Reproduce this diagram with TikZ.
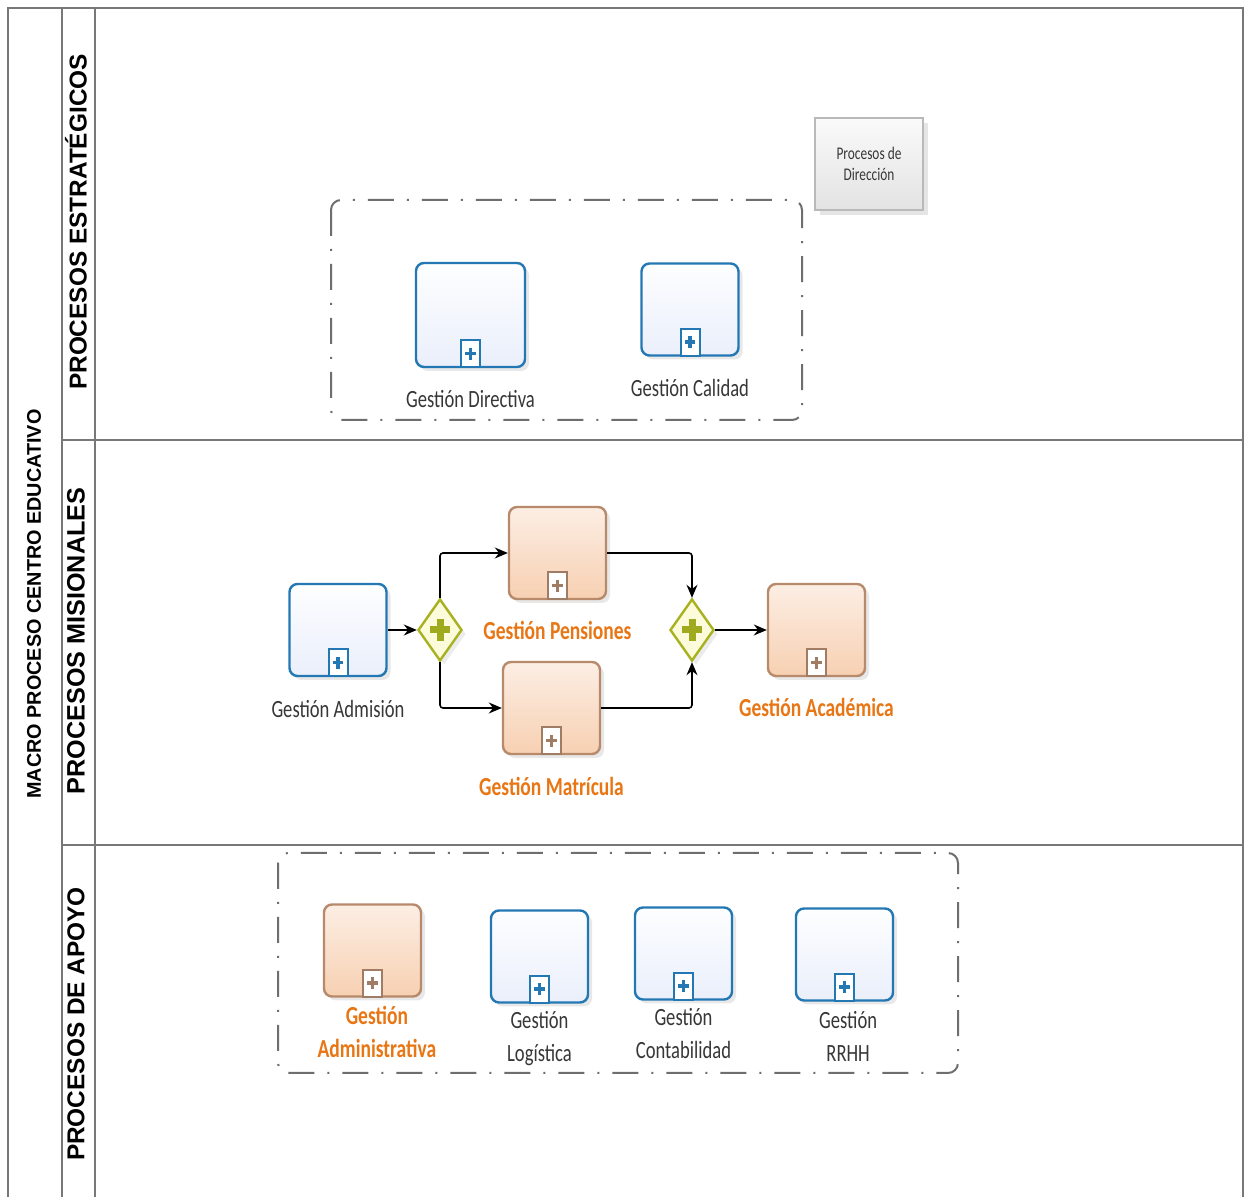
\documentclass[tikz,border=0pt]{standalone}
\usepackage{fontspec}
\newfontfamily\lblfont[FakeStretch=0.75]{Carlito}
\newfontfamily\arialfont{Liberation Sans}
\usetikzlibrary{shapes,arrows,arrows.meta,positioning,shadows,calc}

\definecolor{taskblue}{RGB}{35,120,180}
\definecolor{blueA}{RGB}{253,254,255}
\definecolor{blueB}{RGB}{234,239,251}
\definecolor{taskbrown}{RGB}{184,138,108}
\definecolor{orangeA}{RGB}{252,238,228}
\definecolor{orangeB}{RGB}{247,208,178}
\definecolor{markbrown}{RGB}{160,124,100}
\definecolor{lblorange}{RGB}{232,118,20}
\definecolor{lblgray}{RGB}{55,55,55}
\definecolor{gatefill}{RGB}{252,252,220}
\definecolor{gateline}{RGB}{168,178,32}
\definecolor{gateplus}{RGB}{160,170,30}
\definecolor{groupgray}{RGB}{110,110,110}
\definecolor{lanegray}{RGB}{120,120,120}

\begin{document}
\begin{tikzpicture}[
    x=0.5pt, y=-0.5pt,
    node distance=0.4cm,
    task/.style={draw=taskblue, line width=1.2pt, rounded corners=4pt, minimum width=48.5pt, minimum height=46pt,
        top color=blueA, bottom color=blueB, drop shadow={shadow xshift=2pt, shadow yshift=-2pt, opacity=0.18}},
    otask/.style={task, draw=taskbrown, top color=orangeA, bottom color=orangeB},
    subbox/.style={draw, fill=white, line width=1pt, minimum width=9.5pt, minimum height=13.5pt, inner sep=0pt, anchor=south},
    gate/.style={diamond, draw=gateline, fill=gatefill, line width=1.2pt, minimum width=22pt, minimum height=31pt, inner sep=0pt,
        drop shadow={shadow xshift=2pt, shadow yshift=-2pt, opacity=0.15}},
    note/.style={draw=gray!55, line width=0.6pt, top color=gray!4, bottom color=gray!22, minimum width=54pt, minimum height=46pt,
        align=center, font=\lblfont\fontsize{8.9}{10.5}\selectfont, text=lblgray,
        drop shadow={shadow xshift=2.5pt, shadow yshift=-2.5pt, opacity=0.2}},
    lbl/.style={font=\lblfont\fontsize{12.4}{16.5}\selectfont, text=lblgray, inner sep=0pt, align=center},
    olbl/.style={lbl, font=\lblfont\bfseries\fontsize{13}{16.5}\selectfont, text=lblorange},
    lane/.style={rotate=90, font=\arialfont\bfseries\fontsize{12.2}{14}\selectfont},
    group/.style={draw=groupgray, line width=1pt, rounded corners=5pt, dash pattern=on 13pt off 6.5pt on 1pt off 6.5pt},
    laneline/.style={draw=lanegray, line width=0.75pt},
    arrow/.style={->, thick, >={Stealth[length=6.5pt, width=5.5pt]}, rounded corners=1.5pt}
]
\fill[white] (0,0) rectangle (1250,1197);
\useasboundingbox (0,0) rectangle (1250,1197);

\draw[laneline] (8,1197) -- (8,8) -- (1243,8) -- (1243,1197);
\draw[laneline] (62,8) -- (62,1197);
\draw[laneline] (95,8) -- (95,1197);
\draw[laneline] (62,440) -- (1243,440);
\draw[laneline] (62,845) -- (1243,845);

\node[lane, font=\arialfont\bfseries\fontsize{9.9}{11}\selectfont] (pool) at (34,604) {MACRO PROCESO CENTRO EDUCATIVO};
\node[lane] (estr) at (76,222) {PROCESOS ESTRATÉGICOS};
\node[lane, font=\arialfont\bfseries\fontsize{12.6}{14}\selectfont] (misi) at (76,641) {PROCESOS MISIONALES};
\node[lane] (apoy) at (76,1024) {PROCESOS DE APOYO};

\draw[group] (331,200) rectangle (802,420);
\draw[group] (278,853) rectangle (958,1073);

\node[note] (dirnote) at (869,164) {Procesos de\\Dirección};

\node[task, minimum width=54.5pt, minimum height=52pt] (dir) at (470.5,315) {};
\node[task] (cal) at (690,309.5) {};
\node[lbl, below=11pt of dir] (dir-l) {Gestión Directiva};
\node[lbl, below=11pt of cal] (cal-l) {Gestión Calidad};

\node[task] (adm) at (338,630) {};
\node[gate] (g1) at (440,630) {};
\node[otask] (pen) at (557.5,553) {};
\node[otask] (mat) at (551.5,708) {};
\node[gate] (g2) at (692,630) {};
\node[otask] (aca) at (816.5,630) {};
\node[lbl, below=11.5pt of adm] (adm-l) {Gestión Admisión};
\node[olbl, below=10.5pt of pen] (pen-l) {Gestión Pensiones};
\node[olbl, below=11pt of mat] (mat-l) {Gestión Matrícula};
\node[olbl, below=10.5pt of aca] (aca-l) {Gestión Académica};

\draw[arrow] (adm) -- (g1);
\draw[arrow] (g1.north) |- (pen.west);
\draw[arrow] (g1.south) |- (mat.west);
\draw[arrow] (pen.east) -| (g2.north);
\draw[arrow] (mat.east) -| (g2.south);
\draw[arrow] (g2) -- (aca);

\node[otask] (adv) at (372.5,950.5) {};
\node[task] (lgs) at (539.5,956.5) {};
\node[task] (cnt) at (683.5,953.5) {};
\node[task] (rh) at (844.5,954.5) {};
\node[olbl, below=4.3pt of adv, xshift=2.2pt] (adv-l) {Gestión\\Administrativa};
\node[lbl, below=3.8pt of lgs] (lgs-l) {Gestión\\Logística};
\node[lbl, below=3.8pt of cnt] (cnt-l) {Gestión\\Contabilidad};
\node[lbl, below=4.8pt of rh, xshift=1.8pt] (rh-l) {Gestión\\RRHH};

\foreach \t/\c in {dir/taskblue, cal/taskblue, adm/taskblue, lgs/taskblue, cnt/taskblue, rh/taskblue,
                   pen/markbrown, mat/markbrown, aca/markbrown, adv/markbrown}{
  \node[subbox, draw=\c] (\t-sub) at (\t.south) {};
  \draw[\c, line width=1.7pt] ([xshift=-2.7pt]\t-sub.center) -- ([xshift=2.7pt]\t-sub.center)
        ([yshift=-3pt]\t-sub.center) -- ([yshift=3pt]\t-sub.center);
}
\foreach \g in {g1,g2}{
  \draw[gateplus, line width=3.5pt] ([xshift=-5.2pt]\g.center) -- ([xshift=5.2pt]\g.center)
        ([yshift=-5.5pt]\g.center) -- ([yshift=5.5pt]\g.center);
}
\end{tikzpicture}
\end{document}
